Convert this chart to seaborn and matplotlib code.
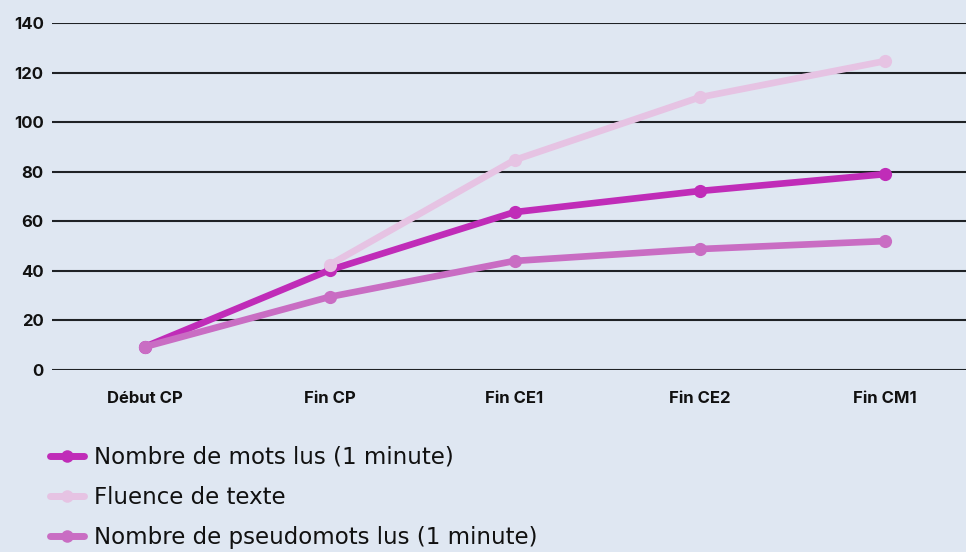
import numpy as np
import pandas as pd
import matplotlib
matplotlib.use("Agg")
import matplotlib.pyplot as plt
import seaborn as sns

# data
stages = ["Début CP", "Fin CP", "Fin CE1", "Fin CE2", "Fin CM1"]
mots = [9.3, 40.3, 63.7, 72.2, 79.0]
fluence = [np.nan, 42.4, 84.7, 110.0, 124.6]
pseudomots = [9.3, 29.5, 44.0, 48.8, 52.0]

series_names = ["Nombre de mots lus (1 minute)", "Fluence de texte",
                "Nombre de pseudomots lus (1 minute)"]
colors = ["#C02CB8", "#E6C3E3", "#C96DC3"]
BG = "#DFE7F2"

rows = []
for name, vals in zip(series_names, [mots, fluence, pseudomots]):
    for i, v in enumerate(vals):
        rows.append({"pos": i, "valeur": v, "serie": name})
df = pd.DataFrame(rows).dropna()

sns.set_theme(style="white")
plt.rcParams["font.family"] = ["Inter", "DejaVu Sans"]
plt.rcParams["text.color"] = "#111111"

fig = plt.figure(figsize=(9.66, 5.52), dpi=100, facecolor=BG)
ax = fig.add_axes([52 / 966, (552 - 370) / 552, 925 / 966, 347 / 552])
ax.set_facecolor(BG)

for y in range(0, 141, 20):
    ax.axhline(y, color="#1f2226", lw=1.5, zorder=1)

sns.lineplot(data=df, x="pos", y="valeur", hue="serie", hue_order=series_names,
             palette=colors, marker="o", markersize=9.5, markeredgewidth=0,
             linewidth=4.8, sort=False, ax=ax, zorder=3, legend=False)

ax.set_xlim(-0.5, 4.5)
ax.set_ylim(0, 140)
ax.set_xticks(range(len(stages)))
ax.set_xticklabels(stages, fontsize=12, fontweight="bold")
ax.set_yticks(range(0, 141, 20))
ax.set_yticklabels([str(v) for v in range(0, 141, 20)], fontsize=12, fontweight="bold")
ax.tick_params(axis="both", length=0, colors="#111111")
ax.tick_params(axis="x", pad=15)
ax.tick_params(axis="y", pad=6)
ax.set_xlabel("")
ax.set_ylabel("")
for s in ax.spines.values():
    s.set_visible(False)

handles = [plt.Line2D([], [], color=c, lw=5, marker="o", markersize=9,
                      markeredgewidth=0) for c in colors]
fig.legend(handles, series_names, loc="upper left", bbox_to_anchor=(29 / 966, 1 - 425 / 552),
           frameon=False, prop={"family": "DejaVu Sans", "size": 16.5},
           handlelength=1.5, handletextpad=0.45, labelspacing=0.74,
           labelcolor="#111111")

fig.savefig("out.png", dpi=100, facecolor=BG)
